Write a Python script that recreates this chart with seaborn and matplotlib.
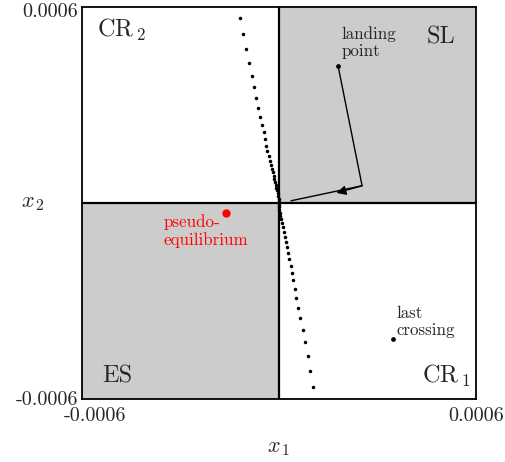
import matplotlib
matplotlib.use("Agg")
import matplotlib.pyplot as plt
import matplotlib.transforms as mtransforms
import seaborn as sns
import pandas as pd

# --- data (units of 1e-4) ---
traj_x = [-1.19, -1.087, -1.005, -0.914, -0.832, -0.762, -0.691, -0.631, -0.570, -0.518,
          -0.466, -0.426, -0.387, -0.356, -0.314, -0.283, -0.253, -0.222, -0.192, -0.161,
          -0.143, -0.122, -0.101, -0.082, -0.061, -0.040, -0.030, -0.015, 0.0, 0.005, 0.010,
          0.0, 0.021, 0.040, 0.061, 0.091, 0.122, 0.152, 0.183, 0.213, 0.244, 0.274, 0.314,
          0.356, 0.387, 0.426, 0.478, 0.527, 0.588, 0.649, 0.722, 0.792, 0.874, 0.953, 1.045]
traj_y = [5.66, 5.15, 4.69, 4.28, 3.89, 3.53, 3.21, 2.91, 2.63, 2.39,
          2.15, 1.94, 1.75, 1.58, 1.43, 1.29, 1.16, 1.04, 0.925, 0.824,
          0.724, 0.632, 0.540, 0.458, 0.376, 0.296, 0.214, 0.12, 0.03, -0.06, -0.13,
          -0.214, -0.314, -0.418, -0.498, -0.620, -0.742, -0.885, -1.04, -1.20, -1.36, -1.53, -1.72,
          -1.92, -2.14, -2.37, -2.63, -2.91, -3.21, -3.53, -3.88, -4.27, -4.68, -5.14, -5.64]
land_x = [1.80, 2.53, 0.366]
land_y = [4.18, 0.52, 0.06]
last_crossing = (3.47, -4.18)
pseudo_eq = (-1.61, -0.305)
tick_vals = [-6, 6]
tick_labels = ["-0.0006", "0.0006"]
region_labels = [r"$\mathrm{CR}_{\,2}$", "SL", "ES", r"$\mathrm{CR}_{\,1}$"]

sns.set_theme(style="white")
plt.rcParams["font.family"] = ["cmr10"]
plt.rcParams["mathtext.fontset"] = "cm"
plt.rcParams["axes.unicode_minus"] = False
plt.rcParams["axes.formatter.use_mathtext"] = True

fig = plt.figure(figsize=(5.05, 4.62), dpi=100)
ax = fig.add_axes([82/505, 1-399/462, 394/505, 392.5/462])
ax.set_xlim(-6, 6)
ax.set_ylim(-6, 6)

gray = "#cccccc"
ax.fill_between([0, 6], 0, 6, color=gray, lw=0, zorder=0)
ax.fill_between([-6, 0], -6, 0, color=gray, lw=0, zorder=0)
ax.axhline(0, color="black", lw=1.6, zorder=1)
ax.axvline(0, color="black", lw=1.6, zorder=1)

df = pd.DataFrame({"x": traj_x, "y": traj_y})
sns.scatterplot(data=df, x="x", y="y", ax=ax, s=6.5, color="black", linewidth=0, zorder=3)

dl = pd.DataFrame({"x": land_x, "y": land_y})
sns.lineplot(data=dl, x="x", y="y", ax=ax, sort=False, color="black", lw=1.0, zorder=3)
ax.annotate("", xy=(1.75, 0.30), xytext=(land_x[1], land_y[1]),
            arrowprops=dict(arrowstyle="-|>", color="black", lw=1.0, mutation_scale=14,
                            shrinkA=0, shrinkB=0), zorder=4)
ax.plot([land_x[0]], [land_y[0]], "o", color="black", ms=2.4, zorder=4)
ax.plot([last_crossing[0]], [last_crossing[1]], "o", color="black", ms=2.4, zorder=4)
ax.plot([pseudo_eq[0]], [pseudo_eq[1]], "o", color="red", ms=5, zorder=4)

sfs = 12.2
ax.text(1.91, 5.40, "landing\npoint", fontsize=sfs, va="top", ha="left", linespacing=1.15)
ax.text(3.59, -3.15, "last\ncrossing", fontsize=sfs, va="top", ha="left", linespacing=1.15)
ax.text(-3.53, -0.36, "pseudo-\nequilibrium", fontsize=sfs, va="top", ha="left",
        color="red", linespacing=1.15)

fs = 17.5
ax.text(-5.55, 5.07, region_labels[0], fontsize=fs, va="baseline", ha="left")
ax.text(5.36, 4.88, region_labels[1], fontsize=fs, va="baseline", ha="right")
ax.text(-5.39, -5.50, region_labels[2], fontsize=fs, va="baseline", ha="left")
ax.text(5.82, -5.50, region_labels[3], fontsize=fs, va="baseline", ha="right")

ax.set_xticks(tick_vals)
ax.set_xticklabels(tick_labels, fontsize=14.5)
ax.set_yticks(tick_vals)
ax.set_yticklabels(tick_labels, fontsize=14.5)
ax.tick_params(length=0)
ax.tick_params(axis="x", pad=6)
ax.tick_params(axis="y", pad=3)
xl = ax.get_xticklabels()
xl[0].set_transform(xl[0].get_transform() +
                    mtransforms.ScaledTranslation(13/100, 0, fig.dpi_scale_trans))
yl = ax.get_yticklabels()
yl[0].set_va("center_baseline")
yl[0].set_transform(yl[0].get_transform() +
                    mtransforms.ScaledTranslation(0, 1/100, fig.dpi_scale_trans))
yl[1].set_va("top")
yl[1].set_transform(yl[1].get_transform() +
                    mtransforms.ScaledTranslation(0, 3/100, fig.dpi_scale_trans))
ax.set_xlabel(r"$x_{\,1}$", fontsize=16)
ax.set_ylabel(r"$x_{\,2}$", fontsize=16, rotation=0)
ax.yaxis.set_label_coords(-0.125, 0.5)
ax.xaxis.set_label_coords(0.5, -0.10)
ax.xaxis.label.set_va("top")
ax.yaxis.label.set_va("center")
for s in ax.spines.values():
    s.set_color("black")
    s.set_linewidth(1.3)
    s.set_visible(True)

fig.savefig("out.png", dpi=100)
